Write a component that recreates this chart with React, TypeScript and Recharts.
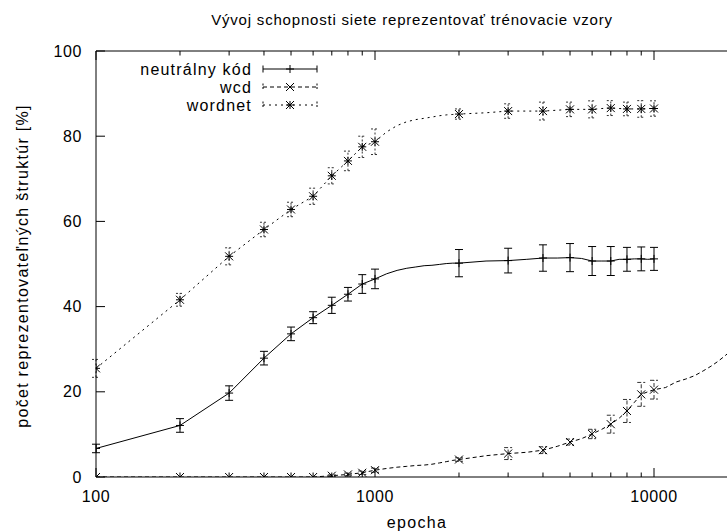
import React from 'react';
import { LineChart, Line, XAxis, YAxis, ErrorBar } from 'recharts';

const FONT = '"Liberation Sans", Arial, Helvetica, sans-serif';

// epochs where the error bars / point markers sit
const markerEpochs = [100, 200, 300, 400, 500, 600, 700, 800, 900, 1000, 2000, 3000, 4000, 5000, 6000, 7000, 8000, 9000, 10000];

const neutralMean = [6.7, 12.1, 19.7, 27.9, 33.6, 37.4, 40.3, 42.9, 45.3, 46.5, 50.2, 50.8, 51.4, 51.5, 50.7, 50.7, 51.1, 51.2, 51.2];
const neutralErr = [1.0, 1.6, 1.7, 1.6, 1.6, 1.4, 1.9, 1.6, 2.2, 2.3, 3.2, 2.9, 3.1, 3.3, 3.4, 3.4, 2.8, 2.8, 2.7];

const wcdMean = [0, 0, 0, 0, 0, 0, 0.3, 0.6, 1.0, 1.6, 4.1, 5.5, 6.3, 8.2, 10.1, 12.4, 15.5, 19.4, 20.5];
const wcdErr = [0, 0, 0, 0, 0, 0, 0.2, 0.3, 0.4, 0.5, 0.4, 1.4, 0.8, 0.7, 1.1, 2.1, 2.7, 2.8, 2.2];

const wordnetMean = [25.5, 41.6, 51.8, 58.1, 62.8, 65.9, 70.7, 74.2, 77.5, 78.7, 85.2, 85.9, 85.9, 86.3, 86.3, 86.6, 86.4, 86.4, 86.5];
const wordnetErr = [2.1, 1.5, 2.0, 1.7, 1.7, 1.9, 1.9, 2.3, 2.5, 3.0, 1.2, 1.7, 2.1, 1.7, 2.0, 1.75, 1.6, 1.95, 1.8];

// the drawn curves are sampled more densely than the markers
const neutralCurveEpochs = [100, 200, 300, 400, 500, 600, 700, 800, 900, 1000, 1100, 1200, 1300, 1400, 1500, 1600, 1700, 1800, 1900, 2000, 2500, 3000, 3500, 4000, 4500, 5000, 5500, 6000, 6500, 7000, 7500, 8000, 8500, 9000, 9500, 10000];
const neutralCurve = [6.7, 12.1, 19.7, 27.9, 33.6, 37.4, 40.3, 42.9, 45.3, 46.5, 47.7, 48.5, 49.0, 49.3, 49.6, 49.7, 49.9, 50.1, 50.2, 50.2, 50.7, 50.8, 51.1, 51.4, 51.4, 51.5, 51.3, 50.7, 50.7, 50.7, 51.1, 51.1, 51.2, 51.2, 51.1, 51.2];

const wcdCurveEpochs = [100, 200, 300, 400, 500, 600, 700, 800, 900, 1000, 1100, 1200, 1300, 1400, 1500, 1600, 1700, 1800, 1900, 2000, 2500, 3000, 3500, 4000, 4500, 5000, 5500, 6000, 6500, 7000, 7500, 8000, 8500, 9000, 9500, 10000, 11000, 12000, 13000, 14000, 15000, 16000, 17000, 18000, 19000, 20000];
const wcdCurve = [0, 0, 0, 0, 0, 0, 0.3, 0.6, 1.0, 1.6, 2.0, 2.3, 2.5, 2.7, 2.8, 3.0, 3.3, 3.6, 3.9, 4.1, 5.0, 5.5, 5.8, 6.3, 7.2, 8.2, 9.0, 10.1, 11.2, 12.4, 13.8, 15.5, 17.5, 19.4, 20.0, 20.5, 21.0, 22.3, 23.0, 23.8, 24.9, 26.0, 27.2, 28.5, 29.8, 31.0];

const wordnetCurveEpochs = [100, 200, 300, 400, 500, 600, 700, 800, 900, 1000, 1100, 1200, 1300, 1400, 1500, 1600, 1700, 1800, 1900, 2000, 2500, 3000, 3500, 4000, 4500, 5000, 5500, 6000, 6500, 7000, 7500, 8000, 8500, 9000, 9500, 10000];
const wordnetCurve = [25.5, 41.6, 51.8, 58.1, 62.8, 65.9, 70.7, 74.2, 77.5, 78.7, 81.0, 82.5, 83.4, 83.9, 84.2, 84.5, 84.8, 85.0, 85.1, 85.2, 85.5, 85.9, 85.9, 85.9, 86.1, 86.3, 86.3, 86.3, 86.5, 86.6, 86.5, 86.4, 86.4, 86.4, 86.5, 86.5];

const xTicks = [100, 200, 300, 400, 500, 600, 700, 800, 900, 1000, 2000, 3000, 4000, 5000, 6000, 7000, 8000, 9000, 10000];
const xMajor = [100, 1000, 10000];
const yTicks = [0, 20, 40, 60, 80, 100];

const zip = (xs: number[], ys: number[], es?: number[]) =>
  xs.map((x, i) => (es ? { x, y: ys[i], e: es[i] } : { x, y: ys[i] }));

const INK = '#000';

const PlusDot = (p: any) => {
  const { cx, cy } = p;
  if (cx == null || cy == null) return <g />;
  return <path d={`M${cx - 4},${cy}h8M${cx},${cy - 4}v8`} stroke={INK} strokeWidth={1} fill="none" />;
};

const CrossDot = (p: any) => {
  const { cx, cy } = p;
  if (cx == null || cy == null) return <g />;
  return <path d={`M${cx - 4},${cy - 4}l8,8M${cx - 4},${cy + 4}l8,-8`} stroke={INK} strokeWidth={1} fill="none" />;
};

const StarDot = (p: any) => {
  const { cx, cy } = p;
  if (cx == null || cy == null) return <g />;
  return (
    <path
      d={`M${cx - 4},${cy}h8M${cx},${cy - 4}v8M${cx - 4},${cy - 4}l8,8M${cx - 4},${cy + 4}l8,-8`}
      stroke={INK}
      strokeWidth={1}
      fill="none"
    />
  );
};

const BottomTick = (p: any) => {
  const { x, y, payload } = p;
  const major = xMajor.includes(payload.value);
  return (
    <g>
      <line x1={x} y1={y} x2={x} y2={y - (major ? 9 : 4.5)} stroke={INK} />
      {major && (
        <text x={x} y={y + 25} textAnchor="middle" fontSize={16} letterSpacing={0.6} fontFamily={FONT} fill={INK}>
          {payload.value}
        </text>
      )}
    </g>
  );
};

const TopTick = (p: any) => {
  const { x, y, payload } = p;
  const major = xMajor.includes(payload.value);
  return <line x1={x} y1={y} x2={x} y2={y + (major ? 9 : 4.5)} stroke={INK} />;
};

const LeftTick = (p: any) => {
  const { x, y, payload } = p;
  return (
    <g>
      <line x1={x} y1={y} x2={x + 9} y2={y} stroke={INK} />
      <text x={x - 14} y={y + 5.5} textAnchor="end" fontSize={16} letterSpacing={0.6} fontFamily={FONT} fill={INK}>
        {payload.value}
      </text>
    </g>
  );
};

function LegendRow({ y, label, dash, Marker }: { y: number; label: string; dash?: string; Marker: any }) {
  return (
    <g>
      <text x={252} y={y + 5.5} textAnchor="end" fontSize={16} letterSpacing={1.2} fontFamily={FONT} fill={INK}>
        {label}
      </text>
      <line x1={263} y1={y} x2={317} y2={y} stroke={INK} strokeDasharray={dash} />
      <line x1={263} y1={y - 3.5} x2={263} y2={y + 3.5} stroke={INK} strokeDasharray={dash ? '2 1.5' : undefined} />
      <line x1={317} y1={y - 3.5} x2={317} y2={y + 3.5} stroke={INK} strokeDasharray={dash ? '2 1.5' : undefined} />
      <Marker cx={290} cy={y} />
    </g>
  );
}

export default function App() {
  const neutralPts = zip(markerEpochs, neutralMean, neutralErr);
  const wcdPts = zip(markerEpochs, wcdMean, wcdErr);
  const wordnetPts = zip(markerEpochs, wordnetMean, wordnetErr);

  return (
    <div style={{ position: 'absolute', left: 0, top: 0, width: 727, height: 531, overflow: 'hidden', background: '#fff' }}>
      <LineChart width={740} height={531} margin={{ top: 21, right: 2, bottom: 24, left: 0 }}>
        <XAxis
          xAxisId="b"
          dataKey="x"
          type="number"
          scale="log"
          domain={[100, 20000]}
          ticks={xTicks}
          interval={0}
          height={30}
          tickLine={false}
          tickSize={0}
          tickMargin={0}
          axisLine={{ stroke: INK }}
          tick={BottomTick}
          allowDataOverflow
        />
        <XAxis
          xAxisId="t"
          orientation="top"
          dataKey="x"
          type="number"
          scale="log"
          domain={[100, 20000]}
          ticks={xTicks}
          interval={0}
          height={30}
          tickLine={false}
          tickSize={0}
          tickMargin={0}
          axisLine={{ stroke: INK }}
          tick={TopTick}
          allowDataOverflow
        />
        <YAxis
          type="number"
          domain={[0, 100]}
          ticks={yTicks}
          interval={0}
          width={96}
          tickLine={false}
          tickSize={0}
          tickMargin={0}
          axisLine={{ stroke: INK }}
          tick={LeftTick}
          allowDataOverflow
        />

        <Line xAxisId="b" data={zip(neutralCurveEpochs, neutralCurve)} dataKey="y" stroke={INK} strokeWidth={1} dot={false} activeDot={false} isAnimationActive={false} />
        <Line xAxisId="b" data={zip(wcdCurveEpochs, wcdCurve)} dataKey="y" stroke={INK} strokeWidth={1} strokeDasharray="4 3" dot={false} activeDot={false} isAnimationActive={false} />
        <Line xAxisId="t" data={zip(wordnetCurveEpochs, wordnetCurve)} dataKey="y" stroke={INK} strokeWidth={1} strokeDasharray="2 4" dot={false} activeDot={false} isAnimationActive={false} />

        <Line xAxisId="b" data={neutralPts} dataKey="y" stroke="none" dot={<PlusDot />} activeDot={false} isAnimationActive={false}>
          <ErrorBar dataKey="e" width={4} stroke={INK} strokeWidth={1} direction="y" isAnimationActive={false} />
        </Line>
        <Line xAxisId="b" data={wcdPts} dataKey="y" stroke="none" dot={<CrossDot />} activeDot={false} isAnimationActive={false}>
          <ErrorBar dataKey="e" width={4} stroke="#333" strokeWidth={1} strokeDasharray="4 2" direction="y" isAnimationActive={false} />
        </Line>
        <Line xAxisId="b" data={wordnetPts} dataKey="y" stroke="none" dot={<StarDot />} activeDot={false} isAnimationActive={false}>
          <ErrorBar dataKey="e" width={4} stroke="#333" strokeWidth={1} strokeDasharray="2 2" direction="y" isAnimationActive={false} />
        </Line>
      </LineChart>

      <svg width={727} height={531} style={{ position: 'absolute', left: 0, top: 0, pointerEvents: 'none' }}>
        <text x={412} y={25} textAnchor="middle" fontSize={15} letterSpacing={0.8} fontFamily={FONT} fill={INK}>
          Vývoj schopnosti siete reprezentovať trénovacie vzory
        </text>
        <text x={417} y={528} textAnchor="middle" fontSize={16} letterSpacing={1.3} fontFamily={FONT} fill={INK}>
          epocha
        </text>
        <text
          x={22}
          y={266}
          textAnchor="middle"
          dominantBaseline="central"
          fontSize={16}
          letterSpacing={1.3}
          fontFamily={FONT}
          fill={INK}
          transform="rotate(-90, 22, 266)"
        >
          počet reprezentovateľných štruktúr [%]
        </text>
        <LegendRow y={69} label="neutrálny kód" Marker={PlusDot} />
        <LegendRow y={87} label="wcd" dash="4 3" Marker={CrossDot} />
        <LegendRow y={105} label="wordnet" dash="2 4" Marker={StarDot} />
      </svg>
    </div>
  );
}
